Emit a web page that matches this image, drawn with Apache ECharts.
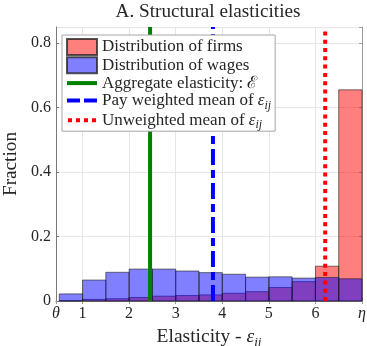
<!DOCTYPE html>
<html>
<head>
<meta charset="utf-8">
<script src="https://cdn.jsdelivr.net/npm/echarts@6/dist/echarts.min.js"></script>
<style>
  html, body { margin: 0; padding: 0; background: #fff; }
  #chart { width: 367px; height: 346px; }
</style>
</head>
<body>
<div id="chart"></div>
<script>
// Histogram bin edges (elasticity), shares per bin
const binEdges = [0.5, 1, 1.5, 2, 2.5, 3, 3.5, 4, 4.5, 5, 5.5, 6, 6.5, 7];
const firmShares = [0.001, 0.005, 0.007, 0.011, 0.015, 0.017, 0.019, 0.024, 0.029, 0.042, 0.060, 0.108, 0.655];
const wageShares = [0.022, 0.065, 0.089, 0.099, 0.099, 0.093, 0.088, 0.083, 0.074, 0.075, 0.071, 0.073, 0.069];

// Reference elasticities drawn as vertical lines
const aggregateElasticity = 2.45;
const payWeightedMean = 3.80;
const unweightedMean = 6.21;

// Axis range and ticks
const THETA = 0.43;
const ETA = 7;
const Y_MAX = 0.85;
const xTickValues = [THETA, 1, 2, 3, 4, 5, 6, ETA];
const xTickLabels = ['θ', '1', '2', '3', '4', '5', '6', 'η'];

const FONT = 'Liberation Serif';
const TEXT = '#262626';

const binData = vals => vals.map((v, i) => [binEdges[i], binEdges[i + 1], v]);

function renderBin(params, api) {
  const topLeft = api.coord([api.value(0), api.value(2)]);
  const bottomRight = api.coord([api.value(1), 0]);
  return {
    type: 'rect',
    shape: {
      x: topLeft[0], y: topLeft[1],
      width: bottomRight[0] - topLeft[0],
      height: bottomRight[1] - topLeft[1]
    },
    style: api.style()
  };
}

const vline = x => [[x, 0], [x, Y_MAX]];

// Legend line keys (30x16 box; the two leading moves pin the box size)
const ICON_SOLID = 'path://M0,0M30,16M0,6L30,6L30,10L0,10Z';
const ICON_DASHED = 'path://M0,0M30,16M0,6L13,6L13,10L0,10ZM17,6L30,6L30,10L17,10Z';
const ICON_DOTTED = 'path://M0,0M30,16M1,6L5,6L5,10L1,10ZM9,6L13,6L13,10L9,10ZM17,6L21,6L21,10L17,10ZM25,6L29,6L29,10L25,10Z';

const LEGEND_SIZE = 17;
const epsRich = {
  e: { fontFamily: FONT, fontSize: LEGEND_SIZE, fontStyle: 'italic', color: TEXT, lineHeight: 16 },
  s: { fontFamily: FONT, fontSize: 12, fontStyle: 'italic', color: TEXT, lineHeight: 12, verticalAlign: 'bottom', padding: [0, 0, -3, 0] }
};

const chart = echarts.init(document.getElementById('chart'), null, { renderer: 'canvas' });

chart.setOption({
  animation: false,
  backgroundColor: '#fff',
  title: {
    text: 'A. Structural elasticities',
    left: 208,
    textAlign: 'center',
    top: 2,
    padding: 0,
    textStyle: { fontFamily: FONT, fontSize: 19.2, fontWeight: 'normal', color: TEXT }
  },
  grid: { left: 56, right: 5, top: 27, bottom: 45, show: false, outerBoundsMode: 'none', containLabel: false },
  legend: {
    orient: 'vertical',
    left: 62,
    top: 35,
    z: 20,
    padding: [3, 4, 0, 4],
    itemWidth: 30,
    itemHeight: 16,
    itemGap: 0.3,
    backgroundColor: '#fff',
    borderColor: '#a6a6a6',
    borderWidth: 1,
    borderRadius: 0,
    data: [
      { name: 'Distribution of firms', icon: 'rect' },
      { name: 'Distribution of wages', icon: 'rect' },
      { name: 'Aggregate elasticity: ℰ', icon: ICON_SOLID },
      { name: 'Pay weighted mean of ε', icon: ICON_DASHED },
      { name: 'Unweighted mean of ε', icon: ICON_DOTTED }
    ],
    formatter: name => name.endsWith('ε') ? name.slice(0, -1) + '{e|ε}{s|ij}' : name,
    textStyle: { fontFamily: FONT, fontSize: LEGEND_SIZE, color: TEXT, lineHeight: 16, rich: epsRich }
  },
  xAxis: [{
    type: 'value',
    min: THETA,
    max: ETA,
    axisLine: { show: true, onZero: false, lineStyle: { color: '#7a7a7a', width: 1 } },
    axisTick: { show: true, inside: true, length: 3, customValues: xTickValues, lineStyle: { color: '#7a7a7a' } },
    splitLine: { show: true, lineStyle: { color: '#e6e6e6', width: 1 } },
    axisLabel: {
      customValues: xTickValues,
      margin: 5,
      fontFamily: FONT,
      fontSize: 16,
      color: TEXT,
      formatter: v => {
        const i = xTickValues.indexOf(v);
        const t = i >= 0 ? xTickLabels[i] : String(v);
        return (t === 'θ' || t === 'η') ? '{i|' + t + '}' : t;
      },
      rich: { i: { fontFamily: FONT, fontSize: 16, fontStyle: 'italic', color: TEXT } }
    },
    name: '{a|Elasticity - }{e|ε}{s|ij}',
    nameLocation: 'middle',
    nameGap: 22,
    nameTextStyle: {
      fontFamily: FONT, fontSize: 19.5, color: TEXT,
      rich: {
        a: { fontFamily: FONT, fontSize: 19.5, color: TEXT },
        e: { fontFamily: FONT, fontSize: 19.5, fontStyle: 'italic', color: TEXT },
        s: { fontFamily: FONT, fontSize: 13, fontStyle: 'italic', color: TEXT, verticalAlign: 'bottom', padding: [0, 0, -2, 0] }
      }
    }
  }, {
    type: 'value',
    position: 'top',
    min: THETA,
    max: ETA,
    axisLine: { show: true, lineStyle: { color: '#9a9a9a', width: 1 } },
    axisTick: { show: true, inside: true, length: 3, customValues: xTickValues, lineStyle: { color: '#9a9a9a' } },
    axisLabel: { show: false },
    splitLine: { show: false }
  }],
  yAxis: [{
    type: 'value',
    min: 0,
    max: Y_MAX,
    interval: 0.2,
    axisLine: { show: true, lineStyle: { color: '#7a7a7a', width: 1 } },
    axisTick: { show: true, inside: true, length: 3, lineStyle: { color: '#7a7a7a' } },
    splitLine: { show: true, lineStyle: { color: '#e6e6e6', width: 1 } },
    axisLabel: {
      margin: 5,
      fontFamily: FONT,
      fontSize: 16,
      color: TEXT,
      showMaxLabel: false,
      formatter: v => v === 0 ? '0' : v.toFixed(1)
    },
    name: 'Fraction',
    nameLocation: 'middle',
    nameGap: 24,
    nameTextStyle: { fontFamily: FONT, fontSize: 19.2, color: TEXT }
  }, {
    type: 'value',
    position: 'right',
    min: 0,
    max: Y_MAX,
    interval: 0.2,
    axisLine: { show: true, lineStyle: { color: '#9a9a9a', width: 1 } },
    axisTick: { show: true, inside: true, length: 3, lineStyle: { color: '#9a9a9a' } },
    axisLabel: { show: false },
    splitLine: { show: false }
  }],
  series: [
    {
      name: 'Distribution of firms',
      type: 'custom',
      renderItem: renderBin,
      encode: { x: [0, 1], y: 2 },
      data: binData(firmShares),
      itemStyle: { color: 'rgba(255,0,0,0.5)', borderColor: 'rgba(30,30,30,0.75)', borderWidth: 0.8 },
      z: 2
    },
    {
      name: 'Distribution of wages',
      type: 'custom',
      renderItem: renderBin,
      encode: { x: [0, 1], y: 2 },
      data: binData(wageShares),
      itemStyle: { color: 'rgba(0,0,255,0.5)', borderColor: 'rgba(30,30,30,0.75)', borderWidth: 0.8 },
      z: 3
    },
    {
      name: 'Aggregate elasticity: ℰ',
      type: 'line',
      data: vline(aggregateElasticity),
      symbol: 'none',
      lineStyle: { color: '#008000', width: 4, type: 'solid', cap: 'butt' },
      itemStyle: { color: '#008000' },
      z: 4
    },
    {
      name: 'Pay weighted mean of ε',
      type: 'line',
      data: vline(payWeightedMean),
      symbol: 'none',
      lineStyle: { color: '#0000ff', width: 4, type: [16, 5, 8, 5], cap: 'butt' },
      itemStyle: { color: '#0000ff' },
      z: 4
    },
    {
      name: 'Unweighted mean of ε',
      type: 'line',
      data: vline(unweightedMean),
      symbol: 'none',
      lineStyle: { color: '#ff0000', width: 4, type: [4, 4.3], cap: 'butt' },
      itemStyle: { color: '#ff0000' },
      z: 4
    }
  ]
});
</script>
</body>
</html>
